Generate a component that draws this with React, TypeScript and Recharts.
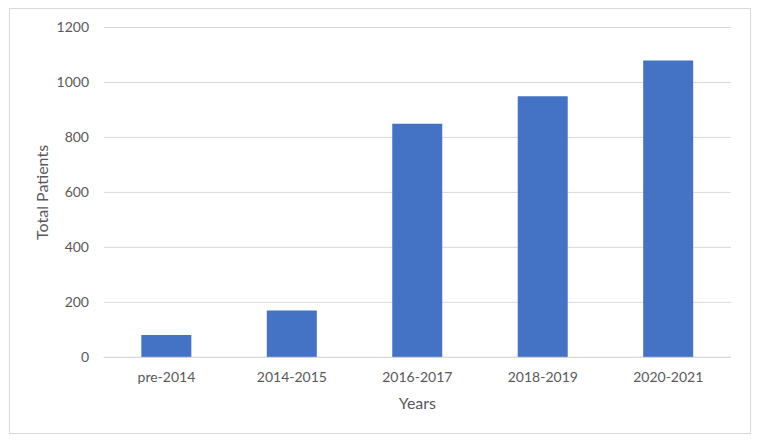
import React from 'react';
import { BarChart, Bar, XAxis, YAxis, CartesianGrid, Label } from 'recharts';

const CATEGORIES = ['pre-2014', '2014-2015', '2016-2017', '2018-2019', '2020-2021'];
const PATIENTS = [81, 170, 850, 950, 1080];
const Y_TICKS = [0, 200, 400, 600, 800, 1000, 1200];

const data = CATEGORIES.map((years, i) => ({ years, patients: PATIENTS[i] }));

const FONT = 'Lato, "Open Sans", sans-serif';
const TEXT = '#595959';
const GRID = '#d9d9d9';

const YTitle = ({ viewBox }: any) => {
  const x = viewBox.x + 32;
  const y = viewBox.y + viewBox.height / 2;
  return (
    <text x={x} y={y} transform={`rotate(-90, ${x}, ${y})`} textAnchor="middle" dominantBaseline="central"
      fill={TEXT} fontSize={16} fontFamily={FONT}>
      Total Patients
    </text>
  );
};

const XTitle = ({ viewBox }: any) => {
  const x = viewBox.x + viewBox.width / 2;
  const y = viewBox.y + 45.4;
  return (
    <text x={x} y={y} textAnchor="middle" dominantBaseline="central" fill={TEXT} fontSize={16} fontFamily={FONT}>
      Years
    </text>
  );
};

export default function App() {
  return (
    <div style={{ marginLeft: 1, width: 740, height: 424, border: `1px solid ${GRID}`, background: '#fff' }}>
      <BarChart
        width={740}
        height={424}
        data={data}
        margin={{ top: 18.5, right: 19, left: 0, bottom: 0 }}
        barCategoryGap="30%"
      >
        <CartesianGrid vertical={false} stroke={GRID} />
        <XAxis
          dataKey="years"
          height={75.7}
          axisLine={{ stroke: GRID }}
          tickLine={false}
          tickSize={6}
          tickMargin={8.8}
          tick={{ fill: TEXT, fontSize: 14, fontFamily: FONT }}
          interval={0}
        >
          <Label content={<XTitle />} />
        </XAxis>
        <YAxis
          width={93.7}
          domain={[0, 1200]}
          ticks={Y_TICKS}
          axisLine={false}
          tickLine={false}
          tickSize={6}
          tickMargin={8.7}
          tick={{ fill: TEXT, fontSize: 14, fontFamily: FONT }}
        >
          <Label content={<YTitle />} />
        </YAxis>
        <Bar dataKey="patients" fill="#4472C4" isAnimationActive={false} />
      </BarChart>
    </div>
  );
}
